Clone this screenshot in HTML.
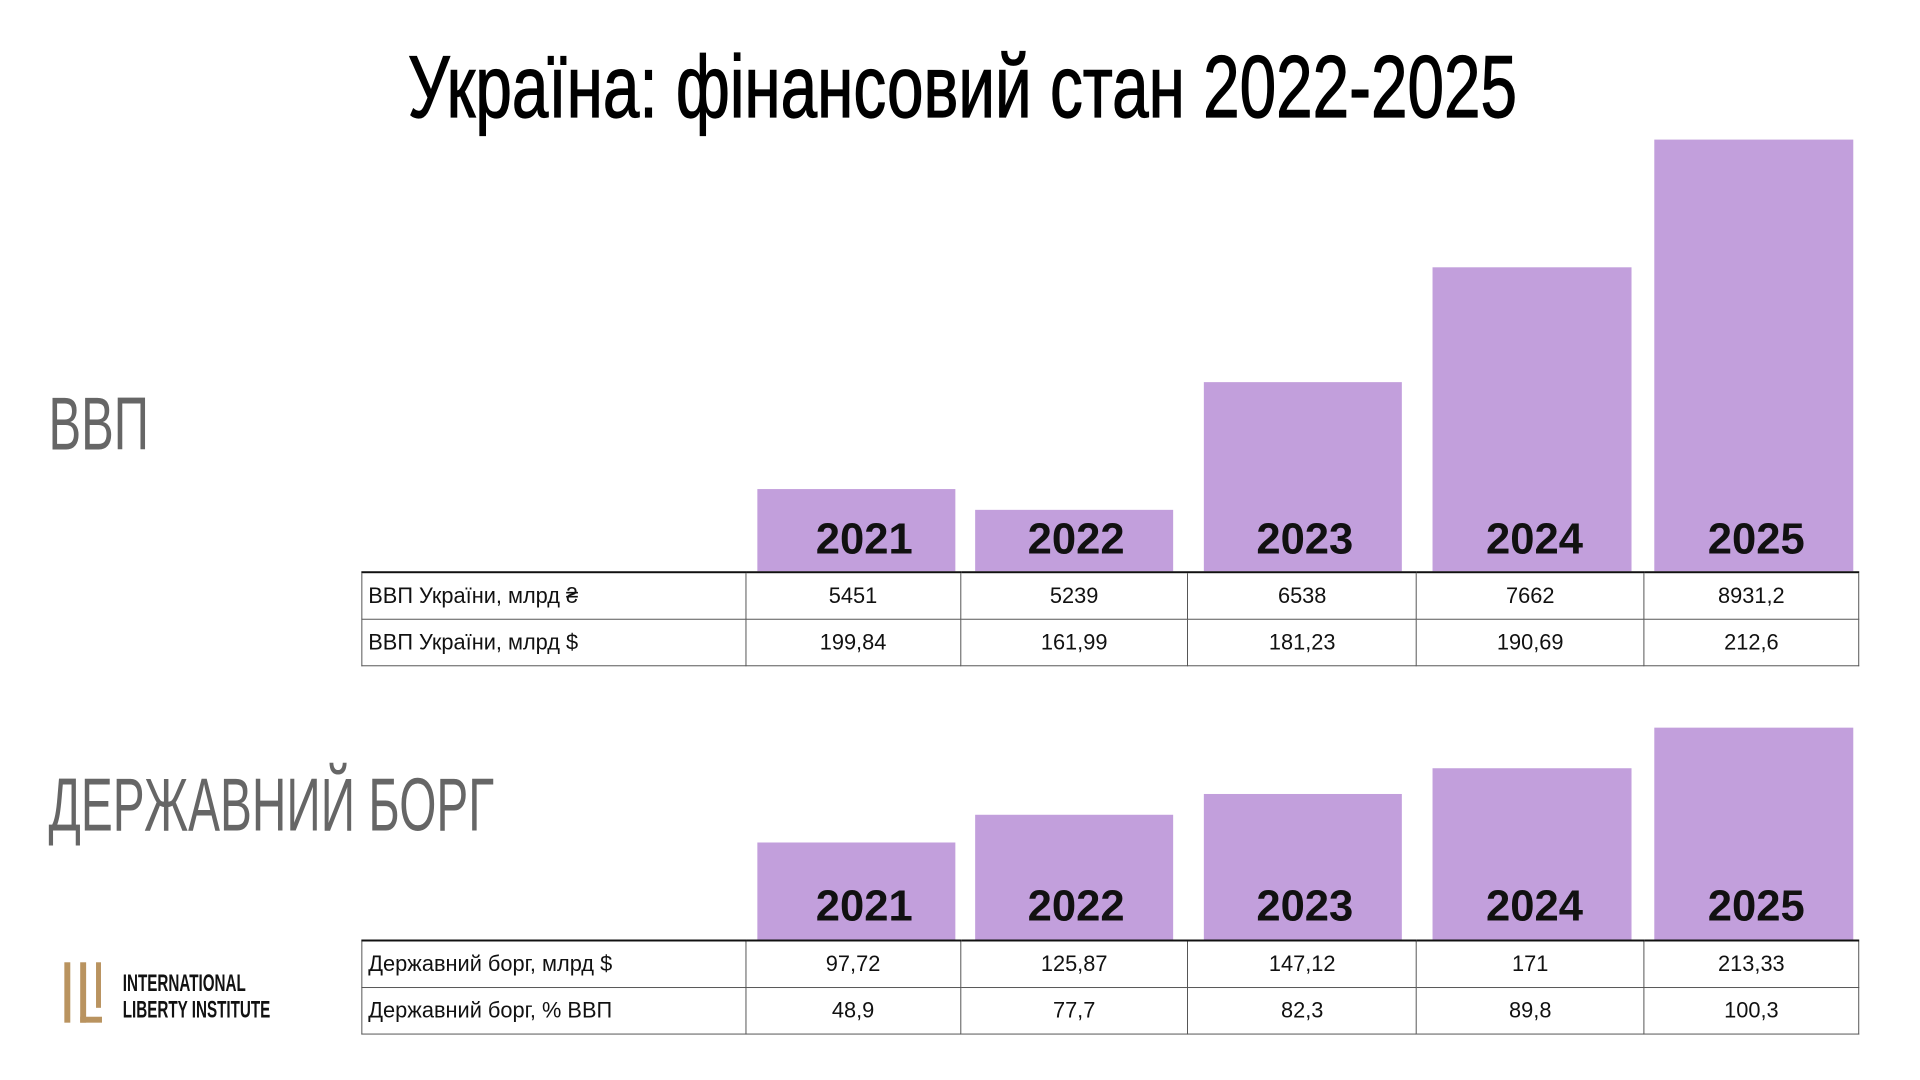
<!DOCTYPE html>
<html><head><meta charset="utf-8"><style>
body{margin:0;width:1920px;height:1080px;background:#fff;position:relative;overflow:hidden;font-family:"Liberation Sans","DejaVu Sans",sans-serif}
#w{position:absolute;left:0;top:0;width:1920px;height:1080px;transform:scale(0.99);transform-origin:0 0}
.a{position:absolute}
.t{position:absolute;white-space:nowrap;transform-origin:0 0}
.bar{position:absolute;background:#c29fdc}
.yr{position:absolute;width:200px;text-align:center;font-weight:bold;font-size:44px;color:#111}
table{position:absolute;border-collapse:collapse;font-size:22px;color:#111}
td{border:1.5px solid #555;padding:0;height:46px;text-align:center}
td:first-child{text-align:left;padding-left:6px}
tr:first-child td{border-top:2.5px solid #111}
</style></head><body><div id="w">
<div class="t" style="left:412px;top:36px;font-size:89px;transform:scaleX(0.745);color:#000;-webkit-text-stroke:1.2px #000">Україна: фінансовий стан 2022-2025</div>
<div class="t" style="left:49px;top:385px;font-size:76px;transform:scaleX(0.65);color:#666">ВВП</div>
<div class="t" style="left:49px;top:770px;font-size:76px;transform:scaleX(0.635);color:#666">ДЕРЖАВНИЙ БОРГ</div>

<div class="bar" style="left:765px;top:494px;width:200px;height:83px"></div>
<div class="bar" style="left:985px;top:515px;width:200px;height:62px"></div>
<div class="bar" style="left:1216px;top:386px;width:200px;height:191px"></div>
<div class="bar" style="left:1447px;top:270px;width:201px;height:307px"></div>
<div class="bar" style="left:1671px;top:141px;width:201px;height:436px"></div>
<div class="yr" style="left:773px;top:520px">2021</div>
<div class="yr" style="left:987px;top:520px">2022</div>
<div class="yr" style="left:1218px;top:520px">2023</div>
<div class="yr" style="left:1450px;top:520px">2024</div>
<div class="yr" style="left:1674px;top:520px">2025</div>

<table style="left:365px;top:577px;width:1513px">
<colgroup><col style="width:388px"><col style="width:217px"><col style="width:230px"><col style="width:231px"><col style="width:230px"><col style="width:217px"></colgroup>
<tr><td>ВВП України, млрд ₴</td><td>5451</td><td>5239</td><td>6538</td><td>7662</td><td>8931,2</td></tr>
<tr><td>ВВП України, млрд $</td><td>199,84</td><td>161,99</td><td>181,23</td><td>190,69</td><td>212,6</td></tr>
</table>

<div class="bar" style="left:765px;top:851px;width:200px;height:98px"></div>
<div class="bar" style="left:985px;top:823px;width:200px;height:126px"></div>
<div class="bar" style="left:1216px;top:802px;width:200px;height:147px"></div>
<div class="bar" style="left:1447px;top:776px;width:201px;height:173px"></div>
<div class="bar" style="left:1671px;top:735px;width:201px;height:214px"></div>
<div class="yr" style="left:773px;top:891px">2021</div>
<div class="yr" style="left:987px;top:891px">2022</div>
<div class="yr" style="left:1218px;top:891px">2023</div>
<div class="yr" style="left:1450px;top:891px">2024</div>
<div class="yr" style="left:1674px;top:891px">2025</div>

<table style="left:365px;top:949px;width:1513px">
<colgroup><col style="width:388px"><col style="width:217px"><col style="width:230px"><col style="width:231px"><col style="width:230px"><col style="width:217px"></colgroup>
<tr><td>Державний борг, млрд $</td><td>97,72</td><td>125,87</td><td>147,12</td><td>171</td><td>213,33</td></tr>
<tr><td>Державний борг, % ВВП</td><td>48,9</td><td>77,7</td><td>82,3</td><td>89,8</td><td>100,3</td></tr>
</table>

<div class="a" style="left:65px;top:972px;width:6px;height:61px;background:#b9935f"></div>
<div class="a" style="left:81px;top:972px;width:6px;height:61px;background:#b9935f"></div>
<div class="a" style="left:81px;top:1027px;width:22px;height:6px;background:#b9935f"></div>
<div class="a" style="left:97px;top:972px;width:5px;height:46px;background:#b9935f"></div>
<div class="t" style="left:124px;top:980px;font-size:24px;font-weight:bold;transform:scaleX(0.64);line-height:27px;color:#111">INTERNATIONAL<br>LIBERTY INSTITUTE</div>
</div></body></html>
